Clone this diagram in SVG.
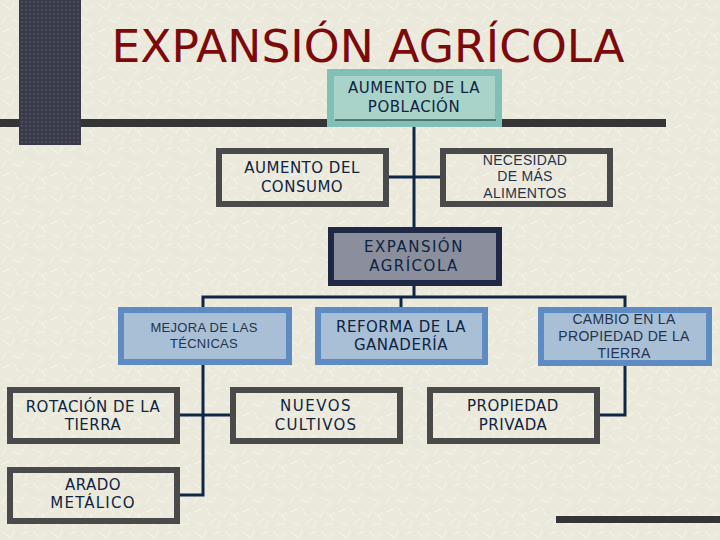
<svg xmlns="http://www.w3.org/2000/svg" width="720" height="540" viewBox="0 0 720 540">
  <defs>
    <pattern id="paper" width="48" height="48" patternUnits="userSpaceOnUse">
      <rect width="48" height="48" fill="#ebe9dc"/>
      <g stroke="#f7f6ee" stroke-width="0.9" stroke-linecap="round" opacity="0.9">
        <path d="M3 5 l7 4 M14 2 l-3 8 M22 6 l8 -3 M34 3 l5 7 M42 10 l4 -6 M6 16 l-4 7 M12 20 l8 2 M26 14 l-5 7 M33 18 l9 3 M44 22 l-6 5 M2 32 l8 -3 M15 28 l3 8 M24 31 l7 5 M36 30 l-4 8 M41 36 l6 -2 M5 42 l6 4 M17 44 l7 -5 M28 40 l-3 7 M37 45 l8 -2 M45 40 l-3 -6"/>
      </g>
    </pattern>
    <pattern id="dots" width="4" height="4" patternUnits="userSpaceOnUse">
      <rect width="4" height="4" fill="#383a4a"/>
      <circle cx="2" cy="2" r="0.9" fill="#555768"/>
    </pattern>
  </defs>
  <style>
    .dark { fill: none; stroke: #4a4a4a; stroke-width: 6; }
    .blue { fill: #a8bfd6; stroke: #5e8bc1; stroke-width: 6; }
    .comic { font-family: "DejaVu Sans", "Liberation Sans", sans-serif; font-size: 15px; fill: #0e2442; text-anchor: middle; letter-spacing: 0.5px; }
    .thin { font-family: "Liberation Sans", Arial, sans-serif; font-size: 14px; fill: #24334c; text-anchor: middle; letter-spacing: 0.3px; }
    .conn { fill: none; stroke: #0f2746; stroke-width: 3; }
  </style>

  <rect width="720" height="540" fill="url(#paper)"/>

  <g id="decor">
    <rect x="0" y="119" width="666" height="8" fill="#353535"/>
    <rect x="19" y="0" width="62" height="145" fill="url(#dots)"/>
    <rect x="556" y="516" width="164" height="7" fill="#353535"/>
  </g>

  <text id="title" x="368" y="62" textLength="513" lengthAdjust="spacingAndGlyphs" font-family="DejaVu Sans, Liberation Sans, sans-serif" font-size="44" fill="#7d0a0a" text-anchor="middle">EXPANSIÓN AGRÍCOLA</text>

  <g id="connectors">
    <path class="conn" d="M414 127 V230"/>
    <path class="conn" d="M386 177 H443"/>
    <path class="conn" d="M414 283 V297"/>
    <path class="conn" d="M203 310 V297 H625 V310"/>
    <path class="conn" d="M401 297 V310"/>
    <path class="conn" d="M203 362 V495 H177"/>
    <path class="conn" d="M177 415 H233"/>
    <path class="conn" d="M625 363 V415 H597"/>
  </g>

  <g id="n-poblacion">
    <rect x="330.5" y="72.5" width="168" height="51" fill="#a9d2c9" stroke="#80c0b6" stroke-width="7"/>
    <line x1="335" y1="120" x2="496" y2="120" stroke="#3e5a58" stroke-width="1.5"/>
    <text class="comic" x="414" y="93">AUMENTO DE LA</text>
    <text class="comic" x="414" y="112">POBLACIÓN</text>
  </g>

  <g id="n-consumo">
    <rect class="dark" x="219" y="151" width="167" height="53"/>
    <text class="comic" x="302" y="173">AUMENTO DEL</text>
    <text class="comic" x="302" y="192">CONSUMO</text>
  </g>

  <g id="n-necesidad">
    <rect class="dark" x="443" y="151" width="167" height="53"/>
    <text class="thin" x="525" y="165">NECESIDAD</text>
    <text class="thin" x="525" y="181">DE MÁS</text>
    <text class="thin" x="525" y="198">ALIMENTOS</text>
  </g>

  <g id="n-expansion">
    <rect x="331" y="230" width="168" height="53" fill="#8a8e9d" stroke="#1f2845" stroke-width="6"/>
    <text class="comic" x="414" y="252" style="letter-spacing:1.5px">EXPANSIÓN</text>
    <text class="comic" x="414" y="271" style="letter-spacing:1.5px">AGRÍCOLA</text>
  </g>

  <g id="n-mejora">
    <rect class="blue" x="121" y="310" width="168" height="52"/>
    <text class="thin" x="204" y="332" style="font-size:13px">MEJORA DE LAS</text>
    <text class="thin" x="204" y="348" style="font-size:13px">TÉCNICAS</text>
  </g>

  <g id="n-reforma">
    <rect class="blue" x="318" y="310" width="167" height="52"/>
    <text class="comic" x="401" y="332">REFORMA DE LA</text>
    <text class="comic" x="401" y="350">GANADERÍA</text>
  </g>

  <g id="n-cambio">
    <rect class="blue" x="541" y="310" width="168" height="53"/>
    <text class="thin" x="624" y="324">CAMBIO EN LA</text>
    <text class="thin" x="624" y="341">PROPIEDAD DE LA</text>
    <text class="thin" x="624" y="358">TIERRA</text>
  </g>

  <g id="n-rotacion">
    <rect class="dark" x="10" y="390" width="167" height="51"/>
    <text class="comic" x="93" y="412">ROTACIÓN DE LA</text>
    <text class="comic" x="93" y="430">TIERRA</text>
  </g>

  <g id="n-arado">
    <rect class="dark" x="10" y="470" width="167" height="51"/>
    <text class="comic" x="93" y="490">ARADO</text>
    <text class="comic" x="93" y="508" style="letter-spacing:1.2px">METÁLICO</text>
  </g>

  <g id="n-nuevos">
    <rect class="dark" x="233" y="390" width="167" height="51"/>
    <text class="comic" x="316" y="411" style="letter-spacing:1.5px">NUEVOS</text>
    <text class="comic" x="316" y="430" style="letter-spacing:1.2px">CULTIVOS</text>
  </g>

  <g id="n-propiedad">
    <rect class="dark" x="430" y="390" width="167" height="51"/>
    <text class="comic" x="513" y="411">PROPIEDAD</text>
    <text class="comic" x="513" y="430">PRIVADA</text>
  </g>
</svg>
